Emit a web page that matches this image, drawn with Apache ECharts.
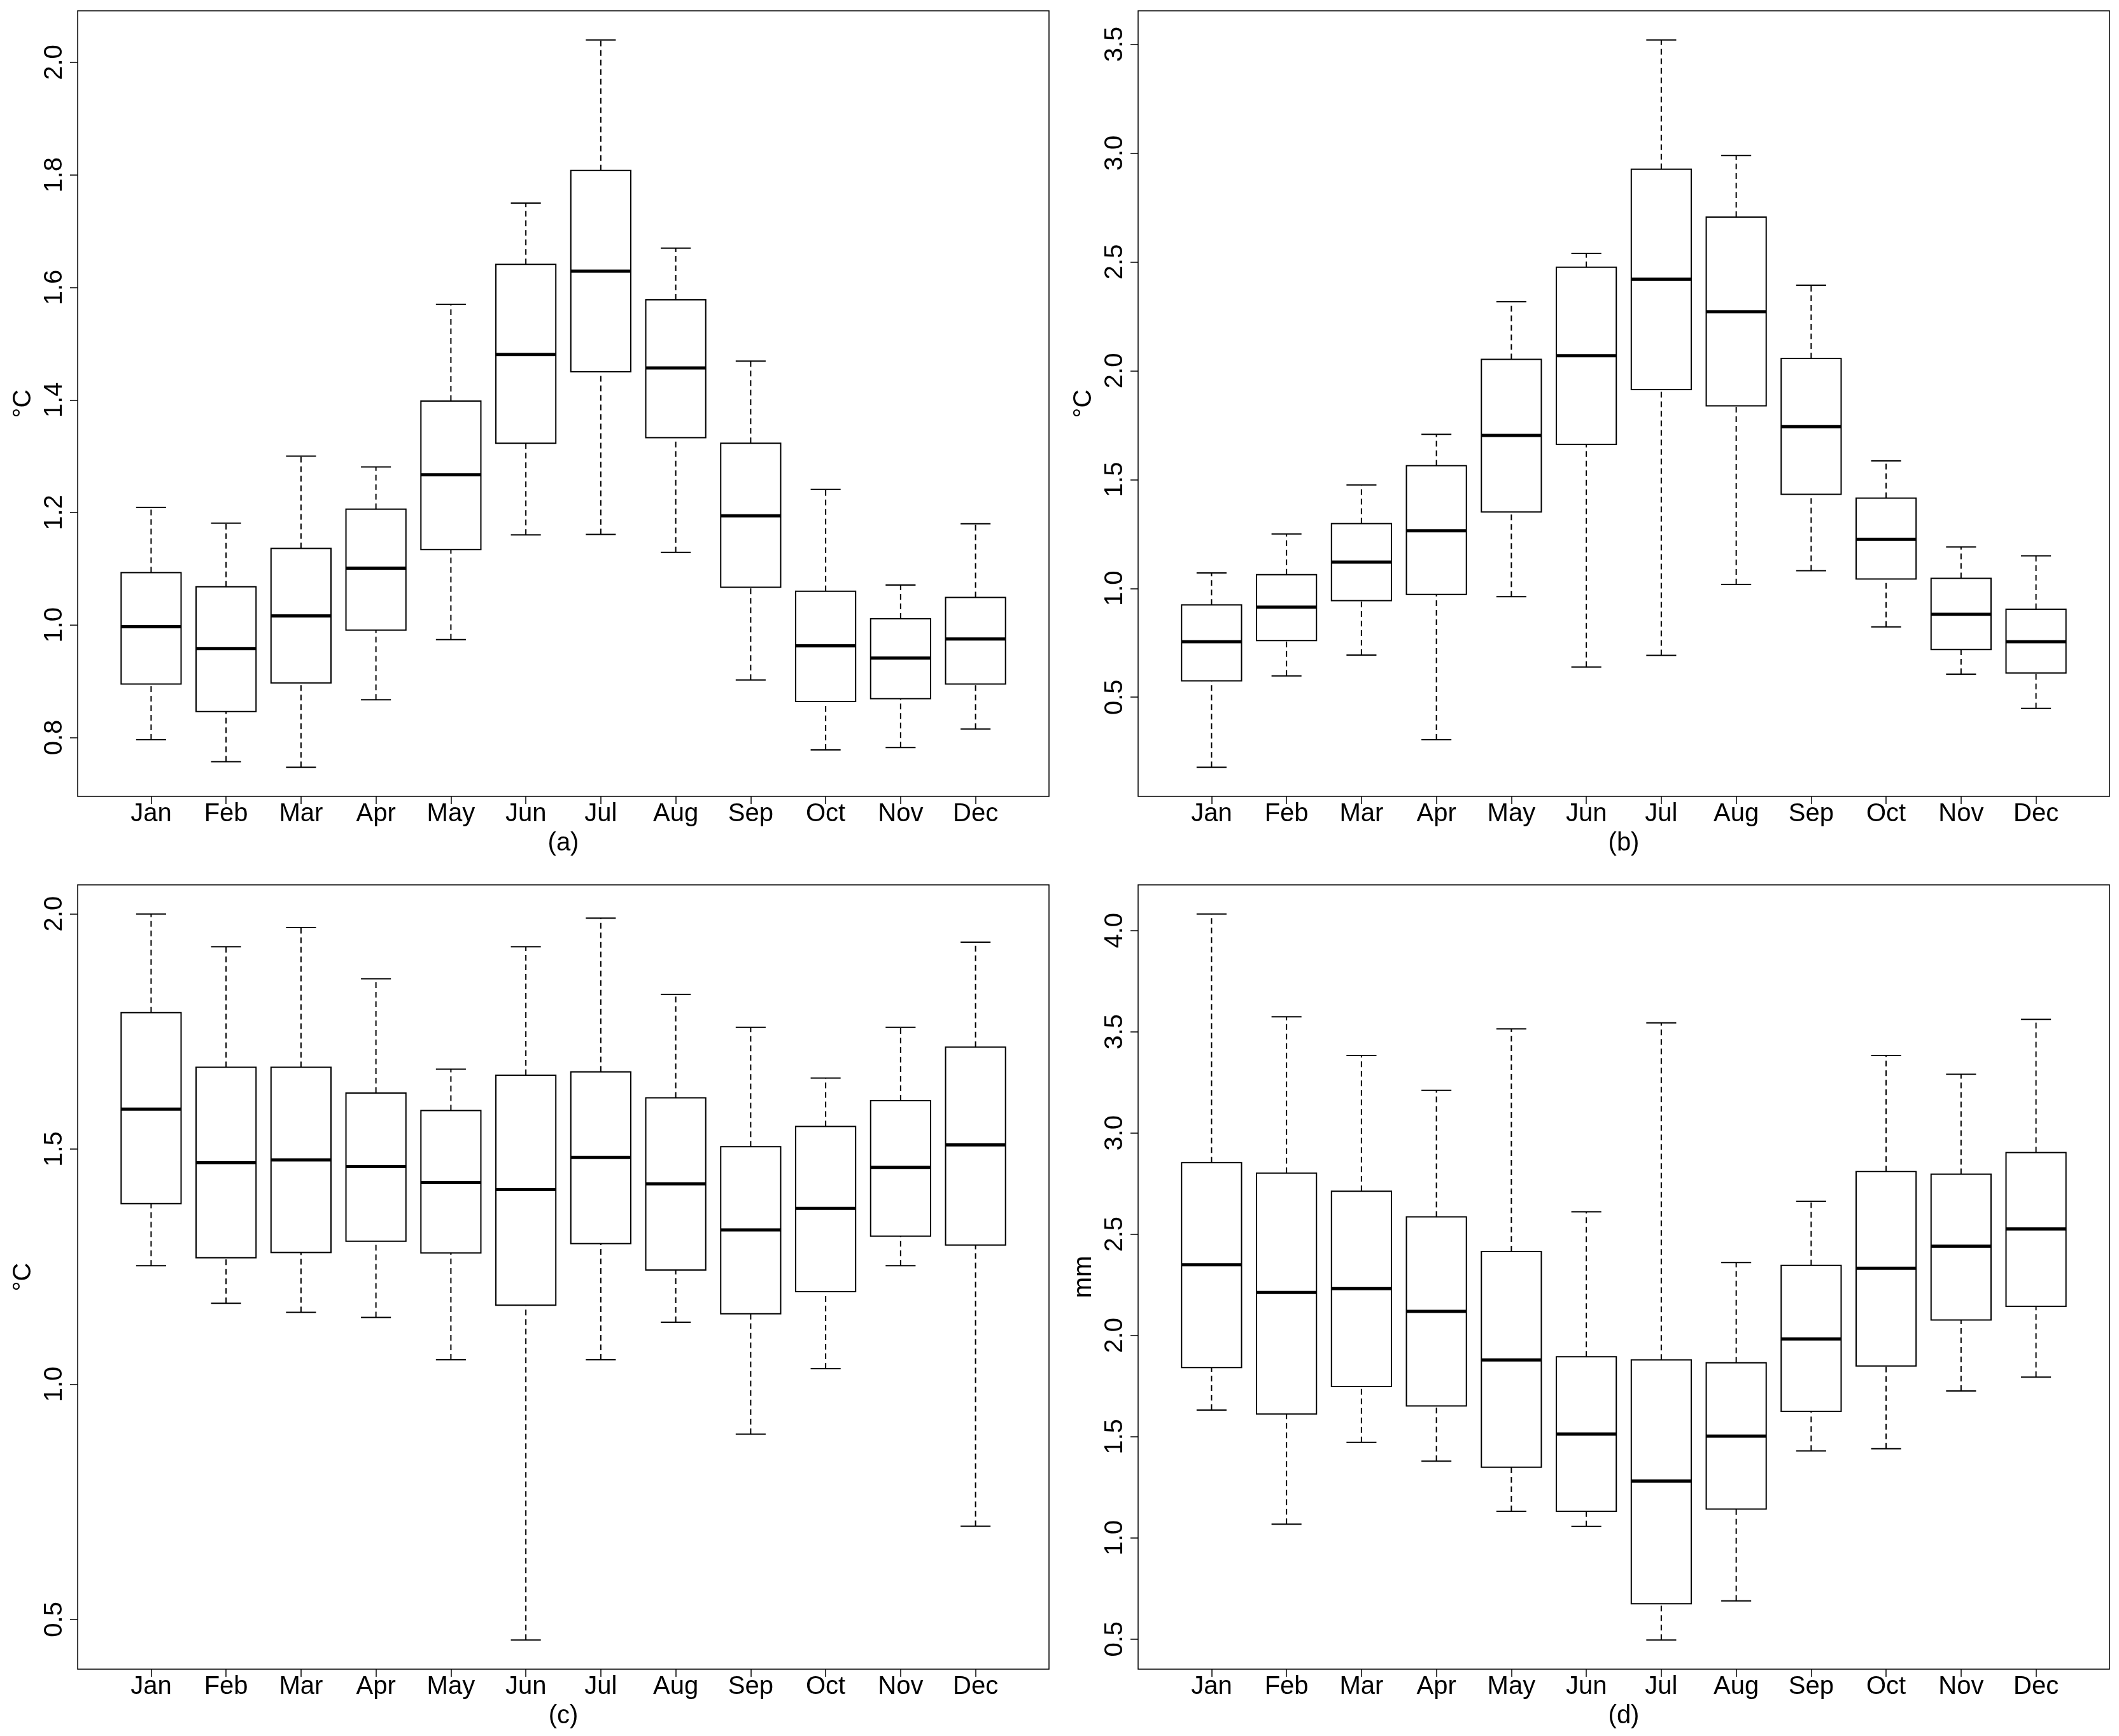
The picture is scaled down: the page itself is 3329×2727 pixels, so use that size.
<!DOCTYPE html>
<html>
<head>
<meta charset="utf-8">
<title>Monthly boxplots</title>
<script src="https://cdn.jsdelivr.net/npm/echarts@6.0.0/dist/echarts.min.js"></script>
<style>
  html, body { margin: 0; padding: 0; background: #fff; }
  #chart { width: 3329px; height: 2727px; }
</style>
</head>
<body>
<div id="chart"></div>
<script>
// months on the x axis
var months = ['Jan', 'Feb', 'Mar', 'Apr', 'May', 'Jun', 'Jul', 'Aug', 'Sep', 'Oct', 'Nov', 'Dec'];

// each row: [lower whisker, Q1, median, Q3, upper whisker]
var panelA = [
  [0.796, 0.895, 0.997, 1.093, 1.209],
  [0.757, 0.846, 0.958, 1.068, 1.181],
  [0.747, 0.897, 1.016, 1.136, 1.300],
  [0.867, 0.991, 1.101, 1.206, 1.281],
  [0.974, 1.134, 1.267, 1.398, 1.570],
  [1.160, 1.323, 1.481, 1.641, 1.750],
  [1.161, 1.450, 1.629, 1.808, 2.040],
  [1.129, 1.333, 1.457, 1.578, 1.670],
  [0.902, 1.067, 1.194, 1.323, 1.469],
  [0.778, 0.864, 0.963, 1.060, 1.241],
  [0.782, 0.869, 0.941, 1.011, 1.071],
  [0.815, 0.895, 0.975, 1.049, 1.180]
];
var panelB = [
  [0.178, 0.575, 0.755, 0.924, 1.071],
  [0.598, 0.760, 0.914, 1.063, 1.250],
  [0.694, 0.944, 1.121, 1.298, 1.475],
  [0.305, 0.972, 1.265, 1.564, 1.708],
  [0.962, 1.351, 1.703, 2.052, 2.317],
  [0.639, 1.662, 2.069, 2.476, 2.539],
  [0.692, 1.913, 2.421, 2.926, 3.520],
  [1.018, 1.839, 2.271, 2.706, 2.989],
  [1.081, 1.432, 1.743, 2.057, 2.393],
  [0.823, 1.043, 1.225, 1.415, 1.586],
  [0.606, 0.719, 0.881, 1.046, 1.190],
  [0.449, 0.611, 0.755, 0.904, 1.149]
];
var panelC = [
  [1.252, 1.384, 1.585, 1.790, 2.000],
  [1.172, 1.269, 1.471, 1.674, 1.930],
  [1.153, 1.280, 1.477, 1.674, 1.971],
  [1.142, 1.304, 1.463, 1.619, 1.862],
  [1.052, 1.279, 1.429, 1.582, 1.670],
  [0.456, 1.168, 1.414, 1.657, 1.930],
  [1.052, 1.299, 1.482, 1.664, 1.991],
  [1.132, 1.243, 1.426, 1.609, 1.829],
  [0.894, 1.150, 1.328, 1.505, 1.759],
  [1.033, 1.197, 1.374, 1.548, 1.651],
  [1.252, 1.315, 1.461, 1.603, 1.759],
  [0.698, 1.296, 1.509, 1.717, 1.940]
];
var panelD = [
  [1.631, 1.841, 2.349, 2.854, 4.082],
  [1.068, 1.612, 2.212, 2.802, 3.574],
  [1.472, 1.748, 2.231, 2.712, 3.383],
  [1.379, 1.652, 2.119, 2.586, 3.211],
  [1.131, 1.349, 1.879, 2.414, 3.514],
  [1.057, 1.131, 1.513, 1.895, 2.611],
  [0.495, 0.675, 1.281, 1.879, 3.544],
  [0.689, 1.142, 1.502, 1.865, 2.360],
  [1.429, 1.625, 1.983, 2.346, 2.663],
  [1.440, 1.849, 2.332, 2.810, 3.383],
  [1.726, 2.076, 2.441, 2.796, 3.290],
  [1.794, 2.144, 2.526, 2.903, 3.561]
];

// y tick labels per panel
var ticksA = [0.8, 1.0, 1.2, 1.4, 1.6, 1.8, 2.0];
var ticksB = [0.5, 1.0, 1.5, 2.0, 2.5, 3.0, 3.5];
var ticksC = [0.5, 1.0, 1.5, 2.0];
var ticksD = [0.5, 1.0, 1.5, 2.0, 2.5, 3.0, 3.5, 4.0];

var panelUnits = ['\u00b0C', '\u00b0C', '\u00b0C', 'mm'];
var panelTags = ['(a)', '(b)', '(c)', '(d)'];

var FONT = 'Liberation Sans, Arial, Helvetica, sans-serif';
var FS = 40;

var panels = [panelA, panelB, panelC, panelD];
var ticks = [ticksA, ticksB, ticksC, ticksD];
var grids = [
  { left: 122, top: 17, width: 1526, height: 1234 },
  { left: 1788, top: 17, width: 1526, height: 1234 },
  { left: 122, top: 1390, width: 1526, height: 1232 },
  { left: 1788, top: 1390, width: 1526, height: 1232 }
];

function renderBox(params, api) {
  var i = api.value(0);
  var lo = api.coord([i, api.value(1)]);
  var q1 = api.coord([i, api.value(2)]);
  var md = api.coord([i, api.value(3)]);
  var q3 = api.coord([i, api.value(4)]);
  var hi = api.coord([i, api.value(5)]);
  var bw = api.size([0.8, 0])[0];
  var x = lo[0];
  var dash = { stroke: '#000', lineWidth: 2, lineDash: [9, 6], fill: null };
  var solid = { stroke: '#000', lineWidth: 2, fill: null };
  return {
    type: 'group',
    children: [
      { type: 'line', shape: { x1: x, y1: lo[1], x2: x, y2: q1[1] }, style: dash },
      { type: 'line', shape: { x1: x, y1: q3[1], x2: x, y2: hi[1] }, style: dash },
      { type: 'line', shape: { x1: x - bw / 4, y1: lo[1], x2: x + bw / 4, y2: lo[1] }, style: solid },
      { type: 'line', shape: { x1: x - bw / 4, y1: hi[1], x2: x + bw / 4, y2: hi[1] }, style: solid },
      { type: 'rect', shape: { x: x - bw / 2, y: q3[1], width: bw, height: q1[1] - q3[1] },
        style: { fill: '#fff', stroke: '#000', lineWidth: 2 } },
      { type: 'line', shape: { x1: x - bw / 2, y1: md[1], x2: x + bw / 2, y2: md[1] },
        style: { stroke: '#000', lineWidth: 5, fill: null } }
    ]
  };
}

var option = {
  backgroundColor: '#fff',
  animation: false,
  textStyle: { fontFamily: FONT, color: '#000' },
  grid: [], xAxis: [], yAxis: [], series: []
};

var monthIdx = months.map(function (m, i) { return i; });

panels.forEach(function (rows, k) {
  var lows = rows.map(function (r) { return r[0]; });
  var highs = rows.map(function (r) { return r[4]; });
  var lo = Math.min.apply(null, lows), hi = Math.max.apply(null, highs);
  var pad = (hi - lo) * 0.04;

  option.grid.push(Object.assign({ show: true, borderColor: '#000', borderWidth: 1.5, backgroundColor: '#fff' }, grids[k]));

  option.xAxis.push({
    type: 'value', gridIndex: k, min: -0.98, max: 11.98, position: 'bottom',
    name: panelTags[k], nameLocation: 'middle', nameGap: 54,
    nameTextStyle: { fontSize: FS, fontFamily: FONT, color: '#000' },
    axisLine: { show: false, onZero: false },
    splitLine: { show: false },
    axisTick: { show: true, length: 12, customValues: monthIdx, lineStyle: { color: '#000', width: 1.5 } },
    axisLabel: { customValues: monthIdx, margin: 8, fontSize: FS, fontFamily: FONT, color: '#000',
      formatter: function (v) { return months[Math.round(v)]; } }
  });

  option.yAxis.push({
    type: 'value', gridIndex: k, min: lo - pad, max: hi + pad, position: 'left',
    name: panelUnits[k], nameLocation: 'middle', nameRotate: 90, nameGap: 65,
    nameTextStyle: { fontSize: FS, fontFamily: FONT, color: '#000' },
    axisLine: { show: false, onZero: false },
    splitLine: { show: false },
    axisTick: { show: true, length: 12, customValues: ticks[k], lineStyle: { color: '#000', width: 1.5 } },
    axisLabel: { customValues: ticks[k], rotate: 90, margin: 16, fontSize: FS, fontFamily: FONT, color: '#000',
      formatter: function (v) { return v.toFixed(1); } }
  });

  option.series.push({
    type: 'custom', xAxisIndex: k, yAxisIndex: k,
    renderItem: renderBox,
    encode: { x: 0, y: [1, 2, 3, 4, 5] },
    data: rows.map(function (r, i) { return [i].concat(r); })
  });
});

var chart = echarts.init(document.getElementById('chart'), null, { renderer: 'canvas' });
chart.setOption(option);
</script>
</body>
</html>
